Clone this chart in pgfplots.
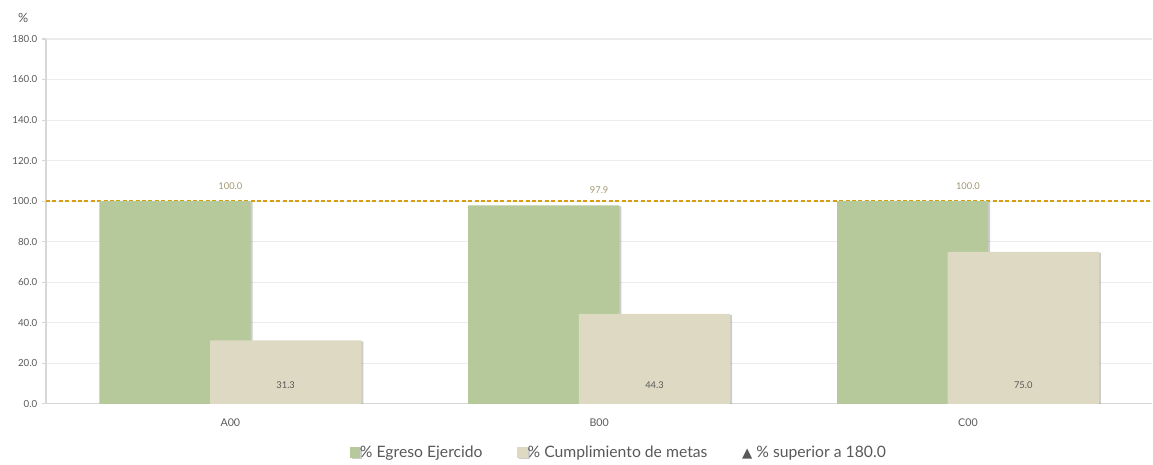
\documentclass[border=0pt]{standalone}
\usepackage{pgfplots}
\pgfplotsset{compat=1.18}
\usepackage{fontspec}
\setmainfont{Lato}
\newfontfamily\symfont{DejaVu Sans}
\usetikzlibrary{shadows}

\definecolor{greenbar}{RGB}{181,201,154}
\definecolor{beigebar}{RGB}{221,217,195}
\definecolor{reflinecol}{RGB}{214,158,20}
\definecolor{goldtext}{RGB}{160,150,110}
\definecolor{labelgray}{RGB}{89,89,89}
\definecolor{gridgray}{RGB}{236,236,236}
\definecolor{axisgray}{RGB}{215,215,215}

\begin{document}
\begin{tikzpicture}
\begin{axis}[
    scale only axis,
    width=830.25pt, height=273.75pt,
    xmin=-0.5, xmax=2.5,
    ymin=0, ymax=180,
    xtick={0,1,2},
    xticklabels={A00,B00,C00},
    ytick={0,20,...,180},
    axis x line*=bottom, axis y line*=left,
    axis line style={draw=axisgray, line width=1pt, -},
    ymajorgrids, grid style={gridgray, line width=0.8pt},
    tick align=outside,
    major tick length=3pt,
    ytick style={draw=axisgray, line width=0.8pt},
    xtick style={draw=none},
    tick label style={font=\fontsize{7.3}{8}\selectfont, text=labelgray},
    xticklabel style={font=\fontsize{8}{9}\selectfont, yshift=-4.5pt},
    yticklabel style={/pgf/number format/.cd, fixed, fixed zerofill, precision=1, assume math mode=true},
    legend style={at={(0.518,-0.1342)}, anchor=center, draw=none, fill=none,
        font=\fontsize{11.8}{13}\selectfont, text=labelgray,
        /tikz/every even column/.append style={column sep=24pt},
        /tikz/every odd column/.append style={column sep=-2pt}},
    legend columns=-1,
    legend cell align=left,
]
% reference line at 100 (drawn first: the shadows below reset later colours)
\addplot[forget plot, color=reflinecol, line width=1pt, dash pattern=on 3pt off 1.8pt]
coordinates {(-0.5,100) (2.5,100)};
% value labels of the second series, near the base of the bars
\addplot[forget plot, draw=none, mark=none, point meta=explicit symbolic,
    nodes near coords,
    every node near coord/.append style={anchor=center, font=\fontsize{7}{8}\selectfont, text=labelgray}]
coordinates {(0.15,9) [31.3] (1.15,9) [44.3] (2.15,9) [75.0]};
% % Egreso Ejercido
\addplot[ybar, bar width=0.41, bar shift=-0.15, fill=greenbar, draw=none,
    drop shadow={shadow xshift=1.5pt, shadow yshift=-0.7pt, opacity=0.4},
    legend image code/.code={\fill[greenbar] (0pt,-3.8pt) rectangle (7.8pt,4pt);},
    nodes near coords={\pgfmathprintnumber[fixed,fixed zerofill,precision=1,assume math mode=true]{\pgfplotspointmeta}},
    every node near coord/.append style={font=\fontsize{7}{8}\selectfont, text=goldtext, yshift=5pt}]
coordinates {(0,100.0) (1,97.9) (2,100.0)};
\addlegendentry{\% Egreso Ejercido}
% % Cumplimiento de metas
\addplot[ybar, bar width=0.41, bar shift=0.15, fill=beigebar, draw=none,
    drop shadow={shadow xshift=1.5pt, shadow yshift=-0.7pt, opacity=0.4},
    legend image code/.code={\fill[beigebar] (0pt,-3.8pt) rectangle (7.8pt,4pt);}]
coordinates {(0,31.3) (1,44.3) (2,75.0)};
\addlegendentry{\% Cumplimiento de metas}
\addlegendimage{empty legend}
\addlegendentry{{\symfont\fontsize{10}{11}\selectfont ▲} \% superior a 180.0}
\path (rel axis cs:0,1) coordinate (axtl);
\path (rel axis cs:0,0) ++(-34.5pt,-42.75pt) coordinate (bbsw);
\path (rel axis cs:1,1) ++(0pt,29.25pt) coordinate (bbne);
\end{axis}
\node[font=\fontsize{9.5}{10}\selectfont, text=labelgray] at ([xshift=-17pt, yshift=15.5pt]axtl) {\%};
\path (bbsw) rectangle (bbne);
\end{tikzpicture}
\end{document}
